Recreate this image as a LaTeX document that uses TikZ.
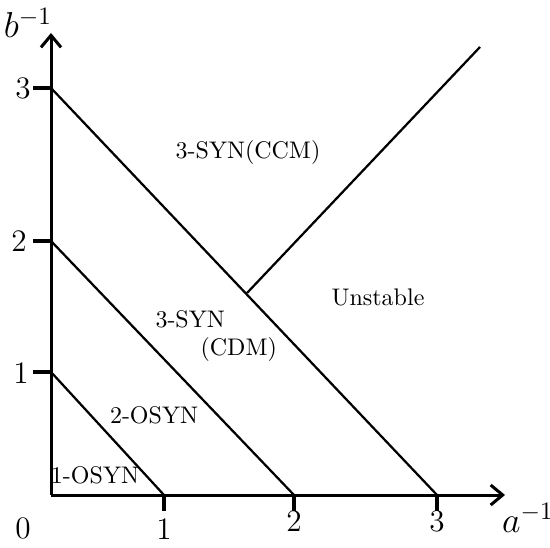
\documentclass[tikz,border=0pt]{standalone}
\usepackage{tikz}
\usetikzlibrary{arrows.meta,calc,positioning}

\begin{document}
\begin{tikzpicture}[
  x=0.4pt,y=0.4pt,
  axis/.style={line width=1.2pt,-{Straight Barb[length=4.8pt,width=8pt,line width=1.2pt]}},
  tick/.style={line width=1.5pt},
  bound/.style={line width=0.9pt},
  region/.style={inner sep=0pt,font=\fontsize{9.6}{11.4}\selectfont},
  num/.style={inner sep=0pt,font=\fontsize{12.5}{14}\selectfont},
  var/.style={inner sep=0pt,font=\fontsize{14.5}{16}\selectfont}
]
\useasboundingbox (0,0) rectangle (550,547);
\coordinate (O) at (51,52);
\coordinate (x1) at (164,52);
\coordinate (x2) at (294,52);
\coordinate (x3) at (437,52);
\coordinate (y1) at (51,175);
\coordinate (y2) at (51,306);
\coordinate (y3) at (51,459);
\coordinate (J) at (247,254);
\coordinate (E) at (480,500);
\draw[axis] (O) -- (505,52) coordinate (xend);
\draw[axis] (O) -- (51,514) coordinate (yend);
\foreach \t in {x1,x2,x3} \draw[tick] (\t) -- ++(0,-16);
\foreach \t in {y1,y2,y3} \draw[tick] (\t) -- ++(-18,0);
\draw[bound] (y1) -- (x1);
\draw[bound] (y2) -- (x2);
\draw[bound] (y3) -- (x3);
\draw[bound] (J) -- (E);
\node[num] (n0) at (23,19) {0};
\node[num] (n1) at (164,18) {1};
\node[num] (n2) at (294,26) {2};
\node[num] (n3) at (437,26) {3};
\node[num] (m1) at (21,174) {1};
\node[num] (m2) at (19,306) {2};
\node[num] (m3) at (23,459) {3};
\node[var] (ax) at (528,29) {$a^{-1}$};
\node[var] (bx) at (28,524) {$b^{-1}$};
\node[region] (ccm) at (248,394) {3-SYN(CCM)};
\node[region] (uns) at (378,250) {Unstable};
\node[region,anchor=north west,align=left] (cdm) at (155,237) {3-SYN\\\hspace*{18pt}(CDM)};
\node[region] (os2) at (154,132) {2-OSYN};
\node[region] (os1) at (95,72) {1-OSYN};
\end{tikzpicture}
\end{document}
